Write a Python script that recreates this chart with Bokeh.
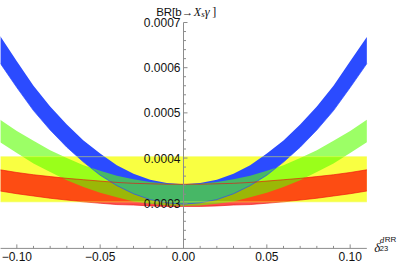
from bokeh.plotting import figure
from bokeh.models import Label, LabelSet, ColumnDataSource
from bokeh.core.properties import value
from bokeh.embed import file_html
from bokeh.resources import INLINE

# ---------------- data ----------------
delta = [-0.11, -0.10, -0.09, -0.08, -0.07, -0.06, -0.05, -0.04, -0.03, -0.02, -0.01, 0.0,
         0.01, 0.02, 0.03, 0.04, 0.05, 0.06, 0.07, 0.08, 0.09, 0.10, 0.11]

blue_hi = [6.70e-4, 6.14e-4, 5.60e-4, 5.14e-4, 4.74e-4, 4.39e-4, 4.10e-4, 3.84e-4, 3.65e-4, 3.52e-4, 3.45e-4, 3.42e-4,
           3.45e-4, 3.52e-4, 3.65e-4, 3.84e-4, 4.10e-4, 4.39e-4, 4.74e-4, 5.14e-4, 5.60e-4, 6.14e-4, 6.68e-4]
blue_lo = [6.10e-4, 5.56e-4, 5.05e-4, 4.62e-4, 4.24e-4, 3.91e-4, 3.62e-4, 3.39e-4, 3.21e-4, 3.08e-4, 3.01e-4, 2.98e-4,
           3.01e-4, 3.08e-4, 3.21e-4, 3.39e-4, 3.62e-4, 3.91e-4, 4.24e-4, 4.62e-4, 5.05e-4, 5.56e-4, 6.09e-4]

green_hi = [4.85e-4, 4.60e-4, 4.38e-4, 4.17e-4, 4.00e-4, 3.84e-4, 3.72e-4, 3.61e-4, 3.53e-4, 3.47e-4, 3.43e-4, 3.42e-4,
            3.43e-4, 3.47e-4, 3.53e-4, 3.61e-4, 3.72e-4, 3.84e-4, 4.00e-4, 4.17e-4, 4.38e-4, 4.60e-4, 4.85e-4]
green_lo = [4.35e-4, 4.11e-4, 3.88e-4, 3.69e-4, 3.51e-4, 3.36e-4, 3.23e-4, 3.13e-4, 3.04e-4, 2.99e-4, 2.95e-4, 2.94e-4,
            2.95e-4, 2.99e-4, 3.04e-4, 3.13e-4, 3.23e-4, 3.36e-4, 3.51e-4, 3.69e-4, 3.88e-4, 4.11e-4, 4.35e-4]

red_hi = [3.74e-4, 3.68e-4, 3.63e-4, 3.59e-4, 3.55e-4, 3.52e-4, 3.49e-4, 3.46e-4, 3.44e-4, 3.43e-4, 3.42e-4, 3.42e-4,
          3.42e-4, 3.43e-4, 3.44e-4, 3.46e-4, 3.49e-4, 3.52e-4, 3.55e-4, 3.59e-4, 3.63e-4, 3.68e-4, 3.74e-4]
red_lo = [3.27e-4, 3.21e-4, 3.16e-4, 3.11e-4, 3.07e-4, 3.03e-4, 3.00e-4, 2.97e-4, 2.96e-4, 2.94e-4, 2.93e-4, 2.93e-4,
          2.93e-4, 2.94e-4, 2.96e-4, 2.97e-4, 3.00e-4, 3.03e-4, 3.07e-4, 3.11e-4, 3.16e-4, 3.21e-4, 3.27e-4]

exp_x = [-0.11, 0.11]
exp_lo = 3.03e-4
exp_hi = 4.03e-4

y_ticks = [0.0003, 0.0004, 0.0005, 0.0006, 0.0007]
y_tick_labels = ["0.0003", "0.0004", "0.0005", "0.0006", "0.0007"]
y_minor = [0.00022, 0.00024, 0.00026, 0.00028, 0.00032, 0.00034, 0.00036, 0.00038,
           0.00042, 0.00044, 0.00046, 0.00048, 0.00052, 0.00054, 0.00056, 0.00058,
           0.00062, 0.00064, 0.00066, 0.00068]
x_ticks = [-0.10, -0.05, 0.0, 0.05, 0.10]
x_tick_labels = ["\u22120.10", "\u22120.05", "0.00", "0.05", "0.10"]
x_minor = [-0.09, -0.08, -0.07, -0.06, -0.04, -0.03, -0.02, -0.01,
           0.01, 0.02, 0.03, 0.04, 0.06, 0.07, 0.08, 0.09]

Y_AXIS_AT = 0.0
X_AXIS_AT = 0.0002
Y_TOP = 0.0007
X_LEFT = -0.11
X_RIGHT = 0.11

# ---------------- figure (frame = whole canvas, so text outside the plot area is not clipped) ----------------
p = figure(width=399, height=264, x_range=(-0.109798, 0.129597), y_range=(0.00016436, 0.00074870),
           output_backend="svg", toolbar_location=None, x_axis_type=None, y_axis_type=None,
           min_border=0)
p.outline_line_color = None
p.background_fill_color = "white"
p.border_fill_color = "white"

# bands
p.varea(x=exp_x, y1=[exp_lo, exp_lo], y2=[exp_hi, exp_hi], fill_color="#f9ff42", fill_alpha=1.0)
p.varea(x=delta, y1=red_lo, y2=red_hi, fill_color="#ff0000", fill_alpha=0.70)
p.varea(x=delta, y1=blue_lo, y2=blue_hi, fill_color="#2b4bff", fill_alpha=1.0)
p.varea(x=delta, y1=green_lo, y2=green_hi, fill_color="#5aff00", fill_alpha=0.6)

# band edges
p.line(delta, blue_lo, line_color="#2b4bff", line_width=0.8, line_alpha=0.9)
p.line(delta, red_hi, line_color="#ee1010", line_width=0.8, line_alpha=0.8)
p.line(delta, red_lo, line_color="#ee1010", line_width=0.8, line_alpha=0.8)
p.line(exp_x, [exp_hi, exp_hi], line_color="#f0ff40", line_width=1, line_alpha=0.5)
p.line(exp_x, [exp_lo, exp_lo], line_color="#f0ff40", line_width=1, line_alpha=0.5)

# axes
axis_col = "#8c8c8c"
p.segment(x0=[X_LEFT], y0=[X_AXIS_AT], x1=[X_RIGHT], y1=[X_AXIS_AT], line_color=axis_col, line_width=1)
p.segment(x0=[Y_AXIS_AT], y0=[X_AXIS_AT], x1=[Y_AXIS_AT], y1=[Y_TOP], line_color=axis_col, line_width=1)

p.ray(x=[Y_AXIS_AT] * len(y_ticks), y=y_ticks, length=4, angle=0, length_units="screen",
      line_color=axis_col, line_width=1)
p.ray(x=[Y_AXIS_AT] * len(y_minor), y=y_minor, length=2.5, angle=0, length_units="screen",
      line_color=axis_col, line_width=1)
p.ray(x=x_ticks, y=[X_AXIS_AT] * len(x_ticks), length=4, angle=1.5707963, length_units="screen",
      line_color=axis_col, line_width=1)
p.ray(x=x_minor, y=[X_AXIS_AT] * len(x_minor), length=2.5, angle=1.5707963, length_units="screen",
      line_color=axis_col, line_width=1)

ysrc = ColumnDataSource(dict(x=[Y_AXIS_AT] * len(y_ticks), y=y_ticks, t=y_tick_labels))
p.add_layout(LabelSet(x="x", y="y", text="t", source=ysrc, x_offset=-3, y_offset=0,
                      text_align="right", text_baseline="middle",
                      text_font=value("Liberation Sans"), text_font_size=value("12px"),
                      text_color="#111111"))
xsrc = ColumnDataSource(dict(x=x_ticks, y=[X_AXIS_AT] * len(x_ticks), t=x_tick_labels))
p.add_layout(LabelSet(x="x", y="y", text="t", source=xsrc, x_offset=0, y_offset=-4,
                      text_align="center", text_baseline="top",
                      text_font=value("Liberation Sans"), text_font_size=value("12px"),
                      text_color="#111111"))


def lab(text, x, y, dx, dy, font, size, style="normal", align="left"):
    p.add_layout(Label(x=x, y=y, text=text, x_offset=dx, y_offset=dy, text_font=font,
                       text_font_size=size, text_font_style=style, text_align=align,
                       text_baseline="alphabetic", text_color="#111111"))


# y-axis title: BR[b -> X_s gamma]
lab("BR[b\u2192", Y_AXIS_AT, Y_TOP, 9.7, 11, "Liberation Sans", "11.5px", align="right")
lab("X", Y_AXIS_AT, Y_TOP, 10.3, 11, "Liberation Serif", "12px", "italic")
lab("s", Y_AXIS_AT, Y_TOP, 17.7, 8.7, "Liberation Serif", "9px", "italic")
lab("\u03b3", Y_AXIS_AT, Y_TOP, 21.3, 11, "Liberation Serif", "12.5px", "italic")
lab("]", Y_AXIS_AT, Y_TOP, 28.8, 11, "Liberation Serif", "12px")

# x-axis title: delta_23^{d RR}
lab("\u03b4", X_RIGHT, X_AXIS_AT, 7.4, 1.2, "Liberation Serif", "13px", "italic")
lab("23", X_RIGHT, X_AXIS_AT, 13, -0.4, "Liberation Sans", "7.5px")
lab("d", X_RIGHT, X_AXIS_AT, 13, 7.9, "Liberation Serif", "9px", "italic")
lab("RR", X_RIGHT, X_AXIS_AT, 18, 8.6, "Liberation Sans", "8px")

open("out.html", "w").write(file_html(p, INLINE))
